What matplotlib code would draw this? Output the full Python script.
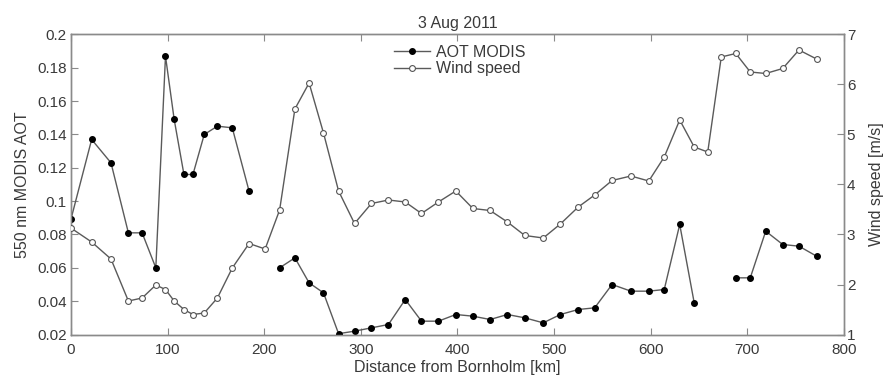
import numpy as np
import matplotlib
matplotlib.use("Agg")
import matplotlib.pyplot as plt

plt.rcParams['font.family'] = ['Liberation Sans', 'DejaVu Sans']

distance_km = [0, 21.5, 41.5, 59.5, 73.7, 87.9, 97.9, 106.9, 117, 126.3, 138, 151.6, 167,
               184.4, 201, 216, 231.8, 246.5, 261.4, 277, 293.5, 311, 328.6, 346, 362.8,
               380.3, 398.3, 416, 433.8, 451.7, 469.7, 488.8, 506.5, 525, 542, 560, 579.5,
               598, 614, 630, 645, 659, 673, 688, 703, 719, 736.6, 753.4, 771.6]

aot_modis = [0.089, 0.137, 0.123, 0.081, 0.081, 0.060, 0.187, 0.149, 0.116, 0.116, 0.140,
             0.145, 0.144, 0.106, np.nan, 0.060, 0.066, 0.051, 0.045, 0.0205, 0.022, 0.024,
             0.026, 0.041, 0.028, 0.028, 0.032, 0.031, 0.029, 0.032, 0.030, 0.027, 0.032,
             0.035, 0.036, 0.050, 0.046, 0.046, 0.047, 0.086, 0.039, np.nan, np.nan, 0.054,
             0.054, 0.082, 0.074, 0.073, 0.067]

wind_speed = [3.13, 2.85, 2.51, 1.67, 1.73, 1.99, 1.90, 1.67, 1.50, 1.40, 1.43, 1.73, 2.33,
              2.82, 2.71, 3.49, 5.51, 6.03, 5.03, 3.87, 3.22, 3.62, 3.69, 3.65, 3.42, 3.65,
              3.87, 3.52, 3.48, 3.25, 2.98, 2.93, 3.21, 3.55, 3.79, 4.08, 4.17, 4.07, 4.55,
              5.29, 4.75, 4.65, 6.55, 6.62, 6.25, 6.22, 6.32, 6.69, 6.51]

x_ticks = [0, 100, 200, 300, 400, 500, 600, 700, 800]
aot_ticks = [0.02, 0.04, 0.06, 0.08, 0.1, 0.12, 0.14, 0.16, 0.18, 0.2]
aot_tick_labels = ['0.02', '0.04', '0.06', '0.08', '0.1', '0.12', '0.14', '0.16', '0.18', '0.2']
wind_ticks = [1, 2, 3, 4, 5, 6, 7]

spine_c = '#8a8a8a'
text_c = '#3a3a3a'
line_c = '#5a5a5a'
tick_fs = 11
label_fs = 11.5

fig = plt.figure(figsize=(8.86, 3.79), dpi=100)
ax = fig.add_axes([0.080, 0.1174, 0.8726, 0.7916])
ax2 = ax.twinx()

l1, = ax.plot(distance_km, aot_modis, '-', color=line_c, lw=1.0, marker='o', ms=4.0,
              mfc='black', mec='black', label='AOT MODIS', zorder=3)
l2, = ax2.plot(distance_km, wind_speed, '-', color=line_c, lw=1.0, marker='o', ms=4.2,
               mfc='white', mec='#555555', mew=0.8, label='Wind speed', zorder=3)

ax.set_xlim(0, 800)
ax.set_ylim(0.02, 0.2)
ax2.set_ylim(1, 7)
ax.set_xticks(x_ticks)
ax.set_yticks(aot_ticks)
ax.set_yticklabels(aot_tick_labels)
ax2.set_yticks(wind_ticks)

for a in (ax, ax2):
    for s in a.spines.values():
        s.set_color(spine_c)
        s.set_linewidth(1.0)

ax.tick_params(axis='x', direction='in', length=5, color=spine_c, labelcolor=text_c,
               labelsize=tick_fs, top=True, pad=6)
ax.tick_params(axis='y', direction='in', length=5, color=spine_c, labelcolor=text_c,
               labelsize=tick_fs, right=False, pad=3)
ax2.tick_params(axis='y', direction='in', length=5, color=spine_c, labelcolor=text_c,
                labelsize=tick_fs, pad=2)

ax.set_xlabel('Distance from Bornholm [km]', fontsize=label_fs, color=text_c, labelpad=2)
ax.set_ylabel('550 nm MODIS AOT', fontsize=label_fs, color=text_c, labelpad=5)
ax2.set_ylabel('Wind speed [m/s]', fontsize=label_fs, color=text_c, rotation=90, labelpad=10)
ax.set_title('3 Aug 2011', fontsize=label_fs, color=text_c, pad=5)

leg = ax2.legend(handles=[l1, l2], loc='upper left', bbox_to_anchor=(0.405, 1.0),
                 frameon=False, fontsize=label_fs, handlelength=2.2, handletextpad=0.4,
                 labelspacing=0.1, borderaxespad=0.25)
for t in leg.get_texts():
    t.set_color(text_c)

fig.savefig('out.png', dpi=100)
